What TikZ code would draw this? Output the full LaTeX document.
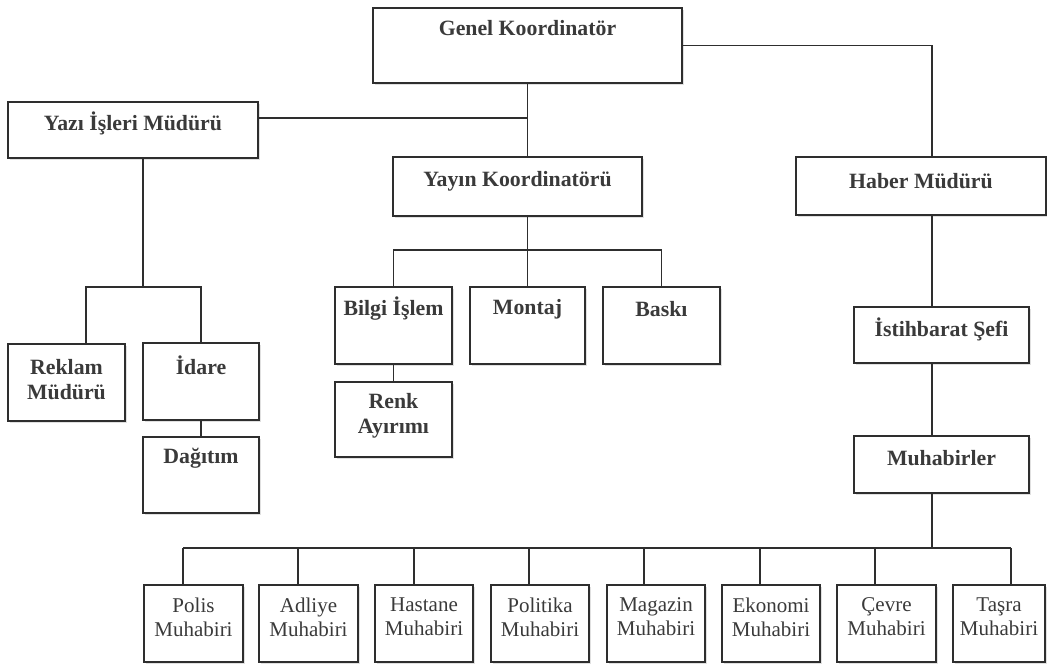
\documentclass[tikz,border=0pt]{standalone}
\usepackage{fontspec}
\setmainfont{Liberation Serif}
\usetikzlibrary{fit,shadows}

\definecolor{linec}{HTML}{2E2E2E}
\definecolor{textc}{HTML}{3A3A3A}

\tikzset{
  box/.style={draw=linec, line width=1.6pt, fill=white, inner sep=0pt,
    drop shadow={shadow xshift=1.5pt, shadow yshift=-1.5pt, fill=black, opacity=0.12}},
  txt/.style={font=\bfseries\fontsize{21.8}{25}\selectfont, text=textc, align=center, inner sep=0pt},
  plain/.style={font=\mdseries\fontsize{21}{24}\selectfont},
  conn/.style={draw=linec, line width=1.3pt}
}

% \orgbox[extra text style]{name}{x1}{y1}{x2}{y2}{text y}{text}
\newcommand\orgbox[8][]{%
  \node[box, fit={(#3,#4) (#5,#6)}] (#2) {};
  \node[txt,#1] (#2-t) at (#2.center |- 0,#7) {#8};}

\begin{document}
\begin{tikzpicture}[x=1pt, y=-1pt]
\useasboundingbox[fill=white] (0,0) rectangle (1047,665);

% top levels
\orgbox{genel}{373}{8}{682}{83}{28}{Genel Koordinatör}
\orgbox{yazi}{8}{102}{258}{158}{123}{Yazı İşleri Müdürü}
\orgbox{yayin}{393}{157}{642}{216}{181}{Yayın Koordinatörü}
\orgbox{haber}{796}{157}{1046}{215}{181}{Haber Müdürü}

% Yazı İşleri branch
\orgbox{reklam}{8}{344}{125}{421}{380}{Reklam\\Müdürü}
\orgbox{idare}{143}{343}{259}{420}{365}{İdare}
\orgbox{dagitim}{143}{437}{259}{513}{458}{Dağıtım}

% Yayın branch
\orgbox{bilgi}{335}{287}{452}{364}{309}{Bilgi İşlem}
\orgbox{montaj}{470}{287}{585}{364}{309}{Montaj}
\orgbox{baski}{603}{287}{720}{364}{309}{Baskı}
\orgbox{renk}{335}{382}{452}{457}{416}{Renk\\Ayırımı}

% Haber branch
\orgbox{istihbarat}{854}{307}{1029}{363}{329}{İstihbarat Şefi}
\orgbox{muhabirler}{854}{436}{1029}{493}{458}{Muhabirler}

% reporters
\orgbox[plain]{polis}{144}{585}{243}{662}{617}{Polis\\Muhabiri}
\orgbox[plain]{adliye}{259}{585}{358}{662}{617}{Adliye\\Muhabiri}
\orgbox[plain]{hastane}{375}{585}{473}{662}{617}{Hastane\\Muhabiri}
\orgbox[plain]{politika}{491}{585}{589}{662}{617}{Politika\\Muhabiri}
\orgbox[plain]{magazin}{607}{585}{705}{662}{617}{Magazin\\Muhabiri}
\orgbox[plain]{ekonomi}{722}{585}{820}{662}{617}{Ekonomi\\Muhabiri}
\orgbox[plain]{cevre}{837}{585}{936}{662}{617}{Çevre\\Muhabiri}
\orgbox[plain]{tasra}{953}{585}{1045}{662}{617}{Taşra\\Muhabiri}

% rails and bus lines
\coordinate (yrail) at (0,118);
\coordinate (hx) at (932,0);
\coordinate (yzx) at (143,0);
\coordinate (yzbus) at (0,287);
\coordinate (rkx) at (86,0);
\coordinate (ybus) at (0,250);
\coordinate (mbus) at (0,548);

% Genel Koordinatör links
\draw[conn] (genel.south) -- (genel.south |- yayin.north);
\draw[conn] (yazi.east |- yrail) -- (genel.south |- yrail);
\draw[conn] (genel.east) -| (hx |- haber.north);

% Yazı İşleri links
\draw[conn] (yzx |- yazi.south) -- (yzx |- yzbus);
\draw[conn] (rkx |- reklam.north) -- (rkx |- yzbus) -- (idare.north |- yzbus) -- (idare.north);
\draw[conn] (idare.south) -- (dagitim.north);

% Yayın links
\draw[conn] (genel.south |- yayin.south) -- (genel.south |- ybus);
\draw[conn] (bilgi.north) -- (bilgi.north |- ybus) -- (baski.north |- ybus) -- (baski.north);
\draw[conn] (montaj.north -| genel.south) -- (genel.south |- ybus);
\draw[conn] (bilgi.south) -- (renk.north);

% Haber links
\draw[conn] (hx |- haber.south) -- (hx |- istihbarat.north);
\draw[conn] (hx |- istihbarat.south) -- (hx |- muhabirler.north);
\draw[conn] (hx |- muhabirler.south) -- (hx |- mbus);
\draw[conn] (183,0 |- mbus) -- (1011,0 |- mbus);
\foreach \n/\x in {polis/183, adliye/298, hastane/414, politika/529,
                   magazin/644, ekonomi/760, cevre/875, tasra/1011}
  \draw[conn] (\x,0 |- mbus) -- (\x,0 |- \n.north);
\end{tikzpicture}
\end{document}
